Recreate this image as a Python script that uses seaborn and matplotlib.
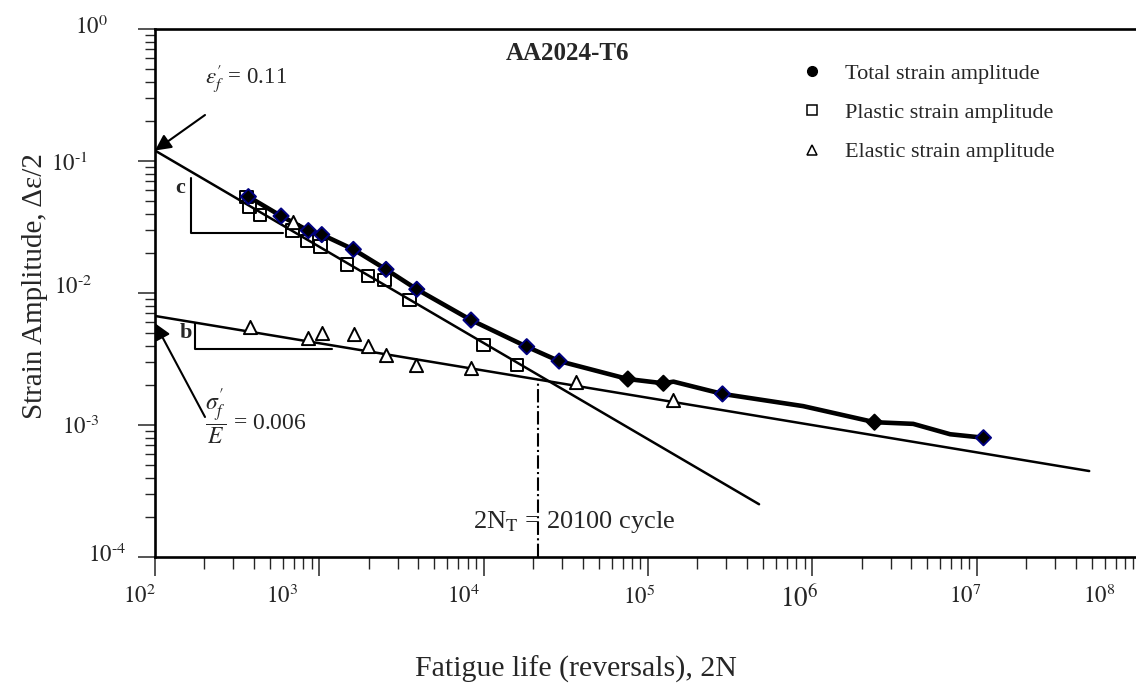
import numpy as np
import matplotlib.pyplot as plt
import matplotlib.transforms as mtransforms
from matplotlib.lines import Line2D
from matplotlib.ticker import LogLocator, NullFormatter, FixedLocator
import seaborn as sns

# total strain amplitude (filled diamonds)
total_N = [370, 585, 857, 1035, 1611, 2546, 3917, 8375, 18280, 28760,
           75390, 124100, 283900, 2.39e6, 1.10e7]
total_amp = [0.0537, 0.0383, 0.0297, 0.0277, 0.0214, 0.0151, 0.01067, 0.00624,
             0.00392, 0.00305, 0.00223, 0.00207, 0.00172, 0.00105, 0.000801]
# edge colour of each diamond
total_edge = ['navy'] * 10 + ['k', 'k', 'navy', 'k', 'navy']

# thick curve through the total strain points (with the bends of the drawing)
curve_N = [370, 585, 857, 1035, 1611, 2546, 3917, 8375, 18280, 28760,
           75390, 124100, 142900, 283900, 879000, 2.39e6, 4.11e6, 6.90e6, 1.10e7]
curve_amp = [0.0537, 0.0383, 0.0297, 0.0277, 0.0214, 0.0151, 0.01067, 0.00624,
             0.00392, 0.00305, 0.00223, 0.00207, 0.00213, 0.00172, 0.00139,
             0.00105, 0.00102, 0.000851, 0.000801]

# plastic strain amplitude (open squares)
plastic_N = [361, 375, 435, 685, 838, 1016, 1469, 1972, 2494, 3532, 9950, 15960]
plastic_amp = [0.0531, 0.0451, 0.0390, 0.0297, 0.0248, 0.0225, 0.0165, 0.0135,
               0.01254, 0.00885, 0.00404, 0.00285]

# elastic strain amplitude (open triangles)
elastic_N = [379, 692, 857, 1035, 1633, 1987, 2530, 3882, 8375, 36380, 142900]
elastic_amp = [0.00556, 0.0345, 0.00454, 0.00495, 0.00489, 0.00397, 0.00339,
               0.00285, 0.00272, 0.00213, 0.00155]

# fitted lines (end points)
plastic_fit_N = [1e2, 4.74e5]
plastic_fit_amp = [0.12, 0.000251]
elastic_fit_N = [1e2, 4.84e7]
elastic_fit_amp = [0.0067, 0.000448]

# transition life
trans_N = 21300
trans_amp = 0.00219

# slope triangles
c_tri_N = [165, 165, 599]
c_tri_amp = [0.0739, 0.0283, 0.0283]
b_tri_N = [175, 175, 1189]
b_tri_amp = [0.00589, 0.00376, 0.00376]

x_ticks = [1e2, 1e3, 1e4, 1e5, 1e6, 1e7, 1e8]
x_ticklabels = ['$10^{2}$', '$10^{3}$', '$10^{4}$', '$10^{5}$', '$10^{6}$', '$10^{7}$', '$10^{8}$']
y_ticks = [1e-4, 1e-3, 1e-2, 1e-1, 1e0]
y_ticklabels = ['$10^{\u2010 4}$', '$10^{\u2010 3}$', '$10^{\u2010 2}$', '$10^{\u2010 1}$', '$10^{0}$']

sns.set_style('ticks')
plt.rcParams['font.family'] = ['Liberation Serif', 'DejaVu Serif']
plt.rcParams['mathtext.fontset'] = 'stix'

W, H = 1136, 690
fig = plt.figure(figsize=(W / 100, H / 100), dpi=100)
ax = fig.add_axes([155 / W, 1 - 557 / H, 986 / W, 528 / H])
ax.set_xscale('log')
ax.set_yscale('log')

# fits
sns.lineplot(x=plastic_fit_N, y=plastic_fit_amp, ax=ax, color='k', lw=1.8, zorder=2)
sns.lineplot(x=elastic_fit_N, y=elastic_fit_amp, ax=ax, color='k', lw=1.8, zorder=2)
# total curve
sns.lineplot(x=curve_N, y=curve_amp, ax=ax, color='k', lw=3.3, sort=False, zorder=3)

# data points
sns.scatterplot(x=plastic_N, y=plastic_amp, ax=ax, marker='s', s=80,
                facecolor='none', edgecolor='k', linewidth=1.4, zorder=4)
sns.scatterplot(x=elastic_N, y=elastic_amp, ax=ax, marker='^', s=90,
                facecolor='white', edgecolor='k', linewidth=1.4, zorder=4)
sns.scatterplot(x=total_N, y=total_amp, ax=ax, marker='D', s=60,
                color='k', edgecolor=total_edge, linewidth=1.4, zorder=5)

# transition line
ax.vlines(trans_N, 1e-4, trans_amp, colors='k', linestyles='-.', lw=1.5, zorder=2)

# slope triangles
ax.plot(c_tri_N, c_tri_amp, color='k', lw=1.5)
ax.plot(b_tri_N, b_tri_amp, color='k', lw=1.5)

ax.set_xlim(1e2, 1e8)
ax.set_ylim(1e-4, 1e0)

ax.xaxis.set_major_locator(FixedLocator(x_ticks))
ax.yaxis.set_major_locator(FixedLocator(y_ticks))
ax.xaxis.set_minor_locator(LogLocator(base=10, subs=np.arange(2, 10), numticks=30))
ax.yaxis.set_minor_locator(LogLocator(base=10, subs=np.arange(2, 10), numticks=30))
ax.xaxis.set_minor_formatter(NullFormatter())
ax.yaxis.set_minor_formatter(NullFormatter())
ax.set_xticklabels(x_ticklabels, fontsize=16.5)
ax.set_yticklabels(y_ticklabels, fontsize=16.5)

ax.tick_params(axis='x', which='major', length=13.7, width=1.1, pad=6.5, direction='out')
ax.tick_params(axis='x', which='minor', length=8.6, width=1.0, direction='out')
ax.tick_params(axis='y', which='major', length=12.2, width=1.1, pad=3, direction='out')
ax.tick_params(axis='y', which='minor', length=7.2, width=1.0, direction='out')
ax.tick_params(top=False, right=False, which='both')

for s in ['left', 'bottom', 'top']:
    ax.spines[s].set_linewidth(1.9)
    ax.spines[s].set_color('k')
ax.spines['right'].set_visible(False)

# shift the tick labels like in the original drawing (pixels)
x_dx = [-16, -37, -20, -9, -13, -11, -42]
y_dx = [-8, -34, -42, -46, -26]
y_dy = [4, 0, 8, -1, 4]
for lab, dx in zip(ax.get_xticklabels(), x_dx):
    lab.set_transform(lab.get_transform() +
                      mtransforms.ScaledTranslation(dx / 100, 0, fig.dpi_scale_trans))
ax.get_xticklabels()[4].set_fontsize(19.5)
for lab, dx, dy in zip(ax.get_yticklabels(), y_dx, y_dy):
    lab.set_transform(lab.get_transform() +
                      mtransforms.ScaledTranslation(dx / 100, dy / 100, fig.dpi_scale_trans))

# axis titles
fig.text(576 / W, 1 - 677 / H, 'Fatigue life (reversals), 2N', fontsize=21.5,
         ha='center', va='baseline')
fig.text(42 / W, 1 - 286 / H, 'Strain Amplitude, Δε/2', fontsize=21, rotation=90,
         rotation_mode='anchor', ha='center', va='baseline')

# annotations
fig.text(567 / W, 1 - 53 / H, 'AA2024-T6', fontsize=18, fontweight='bold',
         ha='center', va='center')
fig.text(205 / W, 1 - 78 / H, r"$\varepsilon_{f}^{\prime}$ = 0.11", fontsize=16.5,
         ha='left', va='center')
fig.text(205 / W, 1 - 417 / H, r"$\dfrac{\sigma_{f}^{\prime}}{E}$ = 0.006", fontsize=17,
         ha='left', va='center')
fig.text(473 / W, 1 - 522 / H, r"2N$_\mathrm{T}$ = 20100 cycle", fontsize=19,
         ha='left', va='center')
fig.text(180 / W, 1 - 188 / H, 'c', fontsize=16, fontweight='bold', ha='center', va='center')
fig.text(186 / W, 1 - 333 / H, 'b', fontsize=16, fontweight='bold', ha='center', va='center')

arrow = dict(arrowstyle='-|>', color='k', lw=1.5, mutation_scale=24, shrinkA=0, shrinkB=0)
ax.annotate('', xy=(100, plastic_fit_amp[0]), xycoords='data',
            xytext=(205, H - 115), textcoords='figure pixels',
            arrowprops=arrow, annotation_clip=False)
ax.annotate('', xy=(100, 0.0059), xycoords='data',
            xytext=(205, H - 417), textcoords='figure pixels',
            arrowprops=arrow, annotation_clip=False)

# legend
handles = [
    Line2D([], [], ls='none', marker='o', color='k', ms=7),
    Line2D([], [], ls='none', marker='s', mfc='none', mec='k', ms=6.5, mew=1.1),
    Line2D([], [], ls='none', marker='^', mfc='none', mec='k', ms=7.5, mew=1.1),
]
labels = ['Total strain amplitude', 'Plastic strain amplitude', 'Elastic strain amplitude']
ax.legend(handles, labels, loc='upper left', bbox_to_anchor=(801 / W, 1 - 63 / H),
          bbox_transform=fig.transFigure, frameon=False, fontsize=16,
          handlelength=1.0, handletextpad=1.0, labelspacing=0.85,
          borderpad=0, borderaxespad=0)

fig.savefig('out.png', dpi=100)
